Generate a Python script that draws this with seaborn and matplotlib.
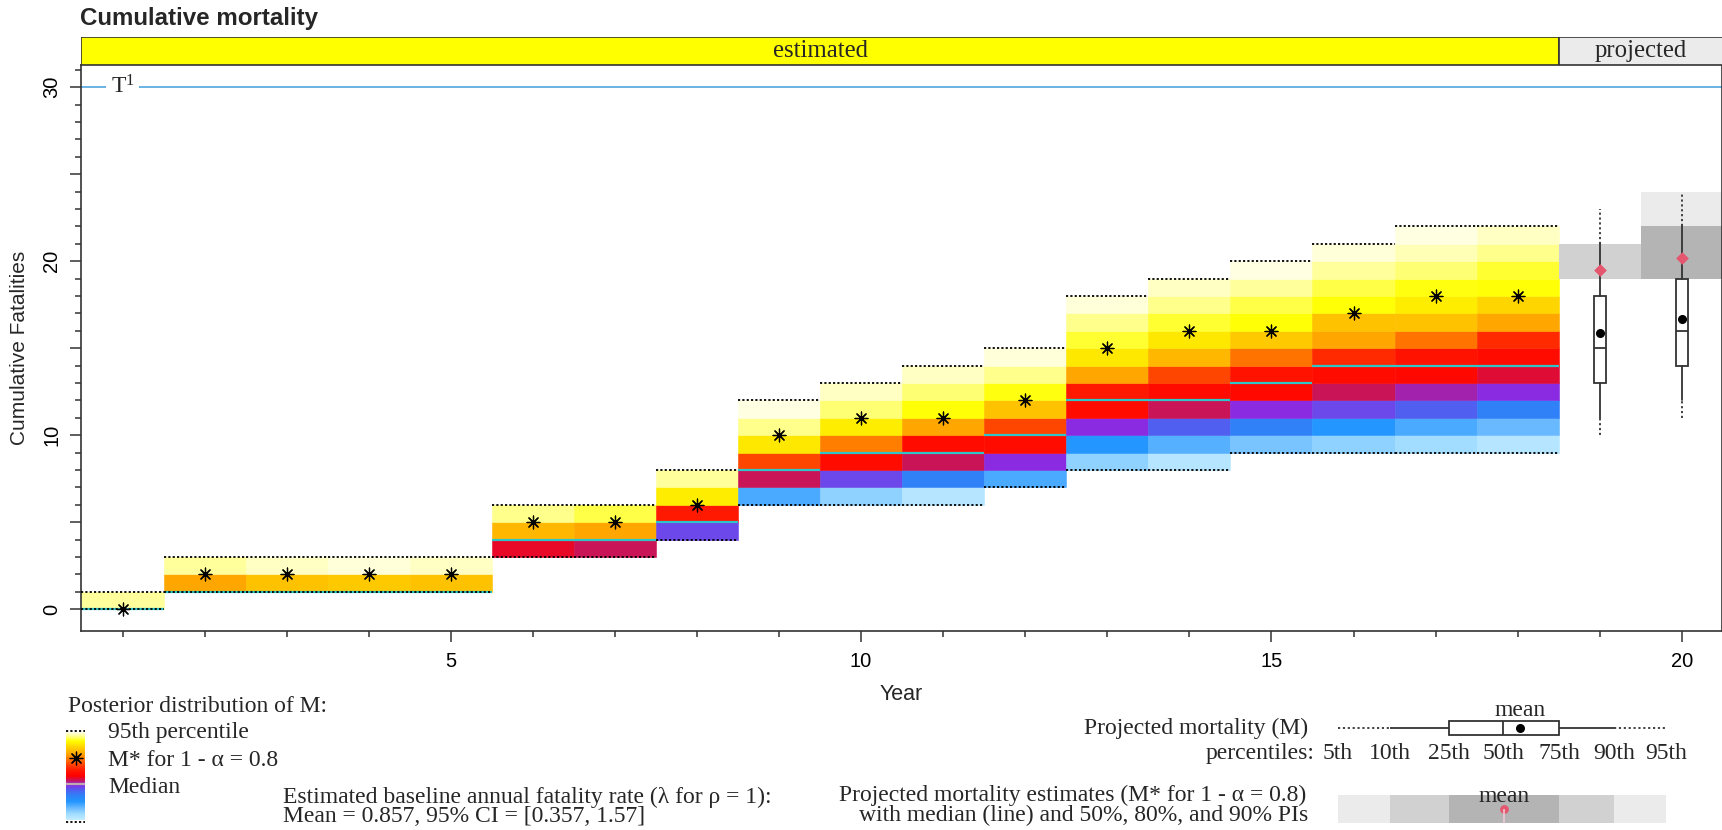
import matplotlib
matplotlib.use("Agg")
import matplotlib.pyplot as plt
from matplotlib.colors import LinearSegmentedColormap
from matplotlib.patches import Rectangle
import numpy as np
import pandas as pd
import seaborn as sns

# estimated years: lowest cell and posterior cumulative prob of each 1-unit cell (bottom -> top)
years = list(range(1, 19))
cell_lo = [0, 1, 1, 1, 1, 3, 3, 4, 6, 6, 6, 7, 8, 8, 9, 9, 9, 9]
cell_prob = [
    [0.96],
    [0.75, 0.96],
    [0.80, 0.98],
    [0.81, 0.99],
    [0.80, 0.98],
    [0.48, 0.78, 0.95],
    [0.45, 0.75, 0.925],
    [0.37, 0.57, 0.87, 0.96],
    [0.17, 0.45, 0.63, 0.86, 0.95, 0.995],
    [0.09, 0.37, 0.53, 0.70, 0.87, 0.94, 0.98],
    [0.03, 0.28, 0.45, 0.53, 0.75, 0.90, 0.94, 0.98],
    [0.17, 0.40, 0.53, 0.63, 0.80, 0.905, 0.95, 0.99],
    [0.09, 0.21, 0.40, 0.53, 0.57, 0.75, 0.86, 0.915, 0.95, 0.99],
    [0.03, 0.16, 0.34, 0.45, 0.53, 0.63, 0.78, 0.86, 0.915, 0.95, 0.98],
    [0.12, 0.28, 0.40, 0.52, 0.55, 0.69, 0.81, 0.90, 0.925, 0.96, 0.995],
    [0.09, 0.21, 0.37, 0.45, 0.53, 0.59, 0.75, 0.80, 0.90, 0.925, 0.96, 0.99],
    [0.07, 0.17, 0.34, 0.42, 0.52, 0.55, 0.69, 0.80, 0.87, 0.905, 0.94, 0.97, 0.995],
    [0.03, 0.14, 0.28, 0.40, 0.47, 0.53, 0.59, 0.75, 0.83, 0.90, 0.915, 0.95, 0.98],
]
medians = [0, 1, 1, 1, 1, 4, 4, 5, 8, 9, 9, 10, 12, 12, 13, 14, 14, 14]
m_star = [0, 2, 2, 2, 2, 5, 5, 6, 10, 11, 11, 12, 15, 16, 16, 17, 18, 18]

# projected years: percentiles of M
proj_years = [19, 20]
p05 = [10, 11]
p10 = [11, 12]
p25 = [13, 14]
p50 = [15, 16]
p75 = [18, 19]
p90 = [21, 22]
p95 = [23, 24]
proj_mean = [15.85, 16.7]
# projected M* (1 - alpha = 0.8): prediction intervals and mean
pi90_lo, pi90_hi = [19, 19], [21, 24]
pi80_lo, pi80_hi = [19, 19], [21, 22]
pi50_lo, pi50_hi = [19, 19], [19, 22]
mstar_mean = [19.5, 20.2]

threshold = 30

SANS = ["Liberation Sans", "DejaVu Sans"]
SERIF = ["Liberation Serif", "DejaVu Serif"]

sns.set_theme(style="ticks")
plt.rcParams["font.family"] = SANS
plt.rcParams["axes.linewidth"] = 1.2
plt.rcParams["axes.edgecolor"] = "#333333"
plt.rcParams["mathtext.fontset"] = "custom"
plt.rcParams["mathtext.rm"] = "Liberation Serif"
plt.rcParams["mathtext.it"] = "Liberation Serif"

cmap = LinearSegmentedColormap.from_list("post", [
    (0.00, "#c4ecff"), (0.07, "#a0dcff"), (0.14, "#66b8ff"), (0.21, "#2196ff"),
    (0.28, "#3080f8"), (0.34, "#5060f0"), (0.40, "#8a2be2"), (0.45, "#c8145a"),
    (0.50, "#ff0000"), (0.57, "#ff1a00"), (0.63, "#ff4500"), (0.69, "#ff7400"),
    (0.75, "#ffa500"), (0.81, "#ffc800"), (0.86, "#ffe600"), (0.90, "#ffff00"),
    (0.94, "#ffff70"), (0.97, "#ffffb0"), (1.00, "#ffffe8")])

W, H = 1722, 830
fig = plt.figure(figsize=(W / 100, H / 100), dpi=100)
ax = fig.add_axes([81 / W, 1 - 631 / H, (W - 81) / W, (631 - 65) / H])

# posterior cells
cells = pd.DataFrame(
    [(yr, lo + k, p) for yr, lo, probs in zip(years, cell_lo, cell_prob) for k, p in enumerate(probs)],
    columns=["year", "bottom", "prob"])
cols = cmap(cells["prob"].to_numpy())
ax.bar(cells["year"], 1.0, bottom=cells["bottom"], width=1.0, color=cols,
       edgecolor=cols, linewidth=0.4, zorder=1)

yr = np.array(years)
hi = [lo + len(p) for lo, p in zip(cell_lo, cell_prob)]
ax.hlines(medians, yr - 0.5, yr + 0.5, color="#2fc4c8", lw=1.6, zorder=2)
ax.hlines(cell_lo, yr - 0.5, yr + 0.5, color="black", ls=(0, (1.2, 1.2)), lw=1.3, zorder=3)
ax.hlines(hi, yr - 0.5, yr + 0.5, color="black", ls=(0, (1.2, 1.2)), lw=1.3, zorder=3)

sns.scatterplot(x=years, y=m_star, marker=(8, 2, 0), s=85, color="black", linewidth=0.9, ax=ax, zorder=5)
sns.scatterplot(x=years, y=m_star, marker="o", s=8, color="black", linewidth=0, ax=ax, zorder=5)

# projected M* intervals
py = np.array(proj_years)
for lo_, hi_, c in [(pi90_lo, pi90_hi, "#ebebeb"), (pi80_lo, pi80_hi, "#d1d1d1"), (pi50_lo, pi50_hi, "#b4b4b4")]:
    ax.bar(py, np.array(hi_) - np.array(lo_), bottom=lo_, width=1.0, color=c, linewidth=0, zorder=1)

# projected M boxplots
stats = [dict(med=m, q1=a, q3=b, whislo=l, whishi=h, mean=mu, fliers=[])
         for m, a, b, l, h, mu in zip(p50, p25, p75, p10, p90, proj_mean)]
ax.bxp(stats, positions=proj_years, widths=0.15, showmeans=True, showcaps=False, patch_artist=True,
       manage_ticks=False,
       boxprops=dict(facecolor="white", edgecolor="#333333", lw=1.3),
       medianprops=dict(color="#333333", lw=1.3),
       whiskerprops=dict(color="#333333", lw=1.3),
       meanprops=dict(marker="o", markerfacecolor="black", markeredgecolor="black", markersize=5.5))
ax.vlines(py, p90, p95, color="#333333", ls=(0, (1.2, 1.5)), lw=1.3, zorder=2)
ax.vlines(py, p05, p10, color="#333333", ls=(0, (1.2, 1.5)), lw=1.3, zorder=2)
sns.scatterplot(x=proj_years, y=mstar_mean, marker="D", s=42, color="#e5566f", linewidth=0, ax=ax, zorder=6)

# threshold line
ax.axhline(threshold, color="#5dade2", lw=1.3, zorder=1)
ax.text(1.0, threshold, r"$\mathrm{T}^{1}$", ha="center", va="center", fontsize=17,
        bbox=dict(facecolor="white", edgecolor="none", pad=3), zorder=4)

ax.set_xlim(0.494, 20.49)
ax.set_ylim(-1.25, 31.28)
ax.set_xticks([5, 10, 15, 20])
ax.set_xticks(range(1, 21), minor=True)
ax.set_yticks(range(0, 31, 5))
ax.set_yticklabels(["0", "", "10", "", "20", "", "30"])
ax.set_yticks(range(0, 32), minor=True)
ax.tick_params(which="major", length=8.2, width=1.1, color="#333333", labelsize=14.5, labelcolor="black")
ax.tick_params(which="minor", length=4.2, width=1.1, color="#333333")
ax.tick_params(axis="x", pad=7)
ax.tick_params(axis="y", pad=6)
for lab in ax.get_yticklabels():
    lab.set_rotation(90)
    lab.set_va("center")
ax.set_xlabel("")
ax.set_ylabel("")
for s in ax.spines.values():
    s.set_visible(True)

fig.text(20 / W, 1 - 348 / H, "Cumulative Fatalities", rotation=90, ha="center", va="center", fontsize=15)
fig.text(901 / W, 1 - 694 / H, "Year", ha="center", va="center", fontsize=15.5)
fig.text(80 / W, 1 - 19 / H, "Cumulative mortality", ha="left", va="center", fontsize=17.4, fontweight="bold")

# estimated / projected strip
ax_s = fig.add_axes([81 / W, 1 - 65 / H, (W - 81) / W, 28.3 / H])
ax_s.set_xlim(ax.get_xlim())
ax_s.set_ylim(0, 1)
est_mid, est_w = (years[0] + years[-1]) / 2, len(years)
prj_mid, prj_w = (proj_years[0] + proj_years[-1]) / 2, len(proj_years)
ax_s.bar([est_mid, prj_mid], 1, width=[est_w, prj_w], bottom=0, color=["#ffff00", "#ebebeb"],
         edgecolor="#333333", linewidth=1.2)
ax_s.text(est_mid, 0.5, "estimated", ha="center", va="center", fontsize=17.8, family=SERIF)
ax_s.text(prj_mid, 0.5, "projected", ha="center", va="center", fontsize=17.8, family=SERIF)
ax_s.axis("off")

# legend area in pixel coordinates
ax_l = fig.add_axes([0, 0, 1, 1])
ax_l.patch.set_alpha(0)
ax_l.imshow(np.linspace(0, 1, 256).reshape(-1, 1), cmap=cmap, extent=(66, 85, 820, 733),
            origin="lower", aspect="auto")
ax_l.set_xlim(0, W)
ax_l.set_ylim(H, 0)
ax_l.axis("off")
ax_l.hlines([731, 822], 66, 85, color="black", ls=(0, (1.2, 1.2)), lw=1.3)
ax_l.hlines(784, 66, 85, color="#c0a8b0", lw=1.6)
ax_l.scatter([76], [758], marker=(8, 2, 0), s=85, c="black", linewidths=0.9)
ax_l.scatter([76], [758], marker="o", s=8, c="black", linewidths=0)

serif_kw = dict(fontsize=17, family=SERIF, va="center")
ax_l.text(68, 706, "Posterior distribution of M:", ha="left", **serif_kw)
ax_l.text(108, 732, "95th percentile", ha="left", **serif_kw)
ax_l.text(108, 760, "M* for 1 - α = 0.8", ha="left", **serif_kw)
ax_l.text(108, 787, "Median", ha="left", **serif_kw)
ax_l.text(283, 797, "Estimated baseline annual fatality rate (λ for ρ = 1):", ha="left", **serif_kw)
ax_l.text(283, 816, "Mean = 0.857, 95% CI = [0.357, 1.57]", ha="left", **serif_kw)

ax_l.text(1308, 728, "Projected mortality (M)", ha="right", **serif_kw)
ax_l.text(1314, 753, "percentiles:", ha="right", **serif_kw)
leg_x = [1338, 1390, 1449, 1503, 1559, 1614, 1666]
for xx, lab in zip(leg_x, ["5th", "10th", "25th", "50th", "75th", "90th", "95th"]):
    ax_l.text(xx, 753, lab, ha="center", **serif_kw)
ax_l.hlines(728, leg_x[0], leg_x[1], color="#333333", ls=(0, (1.2, 1.5)), lw=1.3)
ax_l.hlines(728, leg_x[5], leg_x[6], color="#333333", ls=(0, (1.2, 1.5)), lw=1.3)
ax_l.hlines(728, leg_x[1], leg_x[2], color="#333333", lw=1.3)
ax_l.hlines(728, leg_x[4], leg_x[5], color="#333333", lw=1.3)
ax_l.add_patch(Rectangle((leg_x[2], 721), leg_x[4] - leg_x[2], 13.5, facecolor="white",
                         edgecolor="#333333", lw=1.3))
ax_l.vlines(leg_x[3], 721, 734.5, color="#333333", lw=1.3)
ax_l.scatter([1520], [728], marker="o", s=30, c="black")
ax_l.text(1520, 710, "mean", ha="center", **serif_kw)

ax_l.text(1306, 795, "Projected mortality estimates (M* for 1 - α = 0.8)", ha="right", **serif_kw)
ax_l.text(1308, 815, "with median (line) and 50%, 80%, and 90% PIs", ha="right", **serif_kw)
for (x0, x1), c in zip([(0, 1), (1, 2), (2, 4), (4, 5), (5, 6)],
                       ["#ebebeb", "#d1d1d1", "#b4b4b4", "#d1d1d1", "#ebebeb"]):
    ax_l.add_patch(Rectangle((leg_x[x0], 795), leg_x[x1] - leg_x[x0], 28, facecolor=c, edgecolor="none"))
ax_l.vlines(1504, 809, 823, color="#f0c8d0", lw=1.2)
ax_l.scatter([1504], [809], marker="o", s=40, c="#e5566f", linewidths=0)
ax_l.text(1504, 796, "mean", ha="center", **serif_kw)

fig.savefig("out.png", dpi=100)
